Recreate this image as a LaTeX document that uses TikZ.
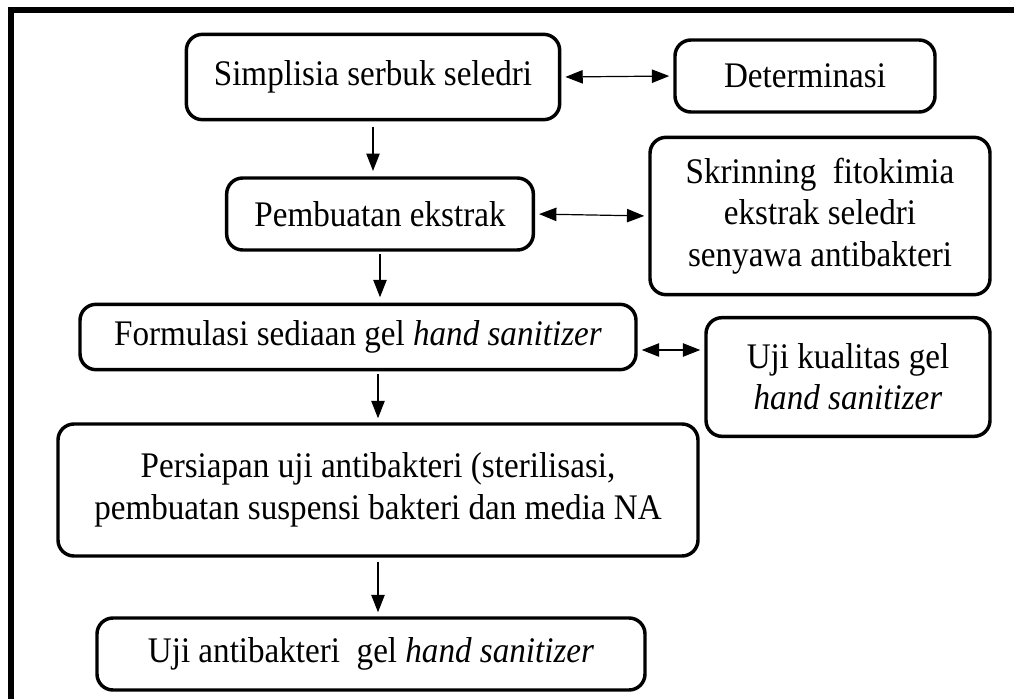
\documentclass[tikz,border=0pt]{standalone}
\usepackage{fontspec}
\setmainfont{Liberation Serif}[FakeStretch=0.92]
\usetikzlibrary{positioning, arrows.meta, calc}

\begin{document}
\begin{tikzpicture}[x=0.75pt, y=-0.75pt,
        box/.style={draw, line width=2.6pt, rounded corners=12pt, align=center,
            inner sep=0pt, font=\fontsize{27}{31}\selectfont},
        flow/.style={-{Triangle[length=13pt, width=10pt]}, line width=0.9pt},
        both/.style={{Triangle[length=13pt, width=10pt]}-{Triangle[length=13pt, width=10pt]},
            line width=0.9pt, shorten <=3pt, shorten >=3pt}]
        \useasboundingbox (0,0) rectangle (1014,699);
        \draw[line width=4.5pt] (11,699) -- (11,10.5) -- (1014,10.5); % frame

        \node[box, minimum width=280pt, minimum height=64pt] (simplisia) at (373, 77) {Simplisia serbuk seledri}; % 1
        \node[box, minimum width=195pt, minimum height=54pt] (determinasi) at (805, 76) {Determinasi}; % 1b
        \node[box, minimum width=230pt, minimum height=54pt] (ekstrak) at (380, 214) {Pembuatan ekstrak}; % 2
        \node[box, minimum width=255pt, minimum height=118pt] (skrining) at (820, 216)
            {Skrinning\ \ fitokimia\\ekstrak seledri\\senyawa antibakteri}; % 2b
        \node[box, minimum width=417pt, minimum height=49pt] (formulasi) at (358, 337)
            {Formulasi sediaan gel \textit{hand sanitizer}}; % 3
        \node[box, minimum width=213pt, minimum height=89pt] (kualitas) at (848, 377)
            {Uji kualitas gel\\\textit{hand sanitizer}}; % 3b
        \node[box, minimum width=480pt, minimum height=99pt] (persiapan) at (378, 490)
            {Persiapan uji antibakteri (sterilisasi,\\pembuatan suspensi bakteri dan media NA}; % 4
        \node[box, minimum width=411pt, minimum height=54pt] (ujianti) at (371, 654)
            {Uji antibakteri\ \ gel \textit{hand sanitizer}}; % 5

        \coordinate (k) at (0, 350);

        \draw[flow, shorten <=4pt, shorten >=4pt] (simplisia.south) -- (simplisia.south |- ekstrak.north);
        \draw[flow, shorten <=2pt, shorten >=4pt] (ekstrak.south) -- (ekstrak.south |- formulasi.north);
        \draw[flow, shorten <=2pt, shorten >=3pt] (persiapan.north |- formulasi.south) -- (persiapan.north);
        \draw[flow, shorten <=3pt, shorten >=3pt] (persiapan.south) -- (persiapan.south |- ujianti.north);
        \draw
            (simplisia.east) edge[both] (determinasi.west)
            (ekstrak.east) edge[both] (skrining.west)
            (formulasi.east |- k) edge[both] (kualitas.west |- k)
            ;
    \end{tikzpicture}
\end{document}
